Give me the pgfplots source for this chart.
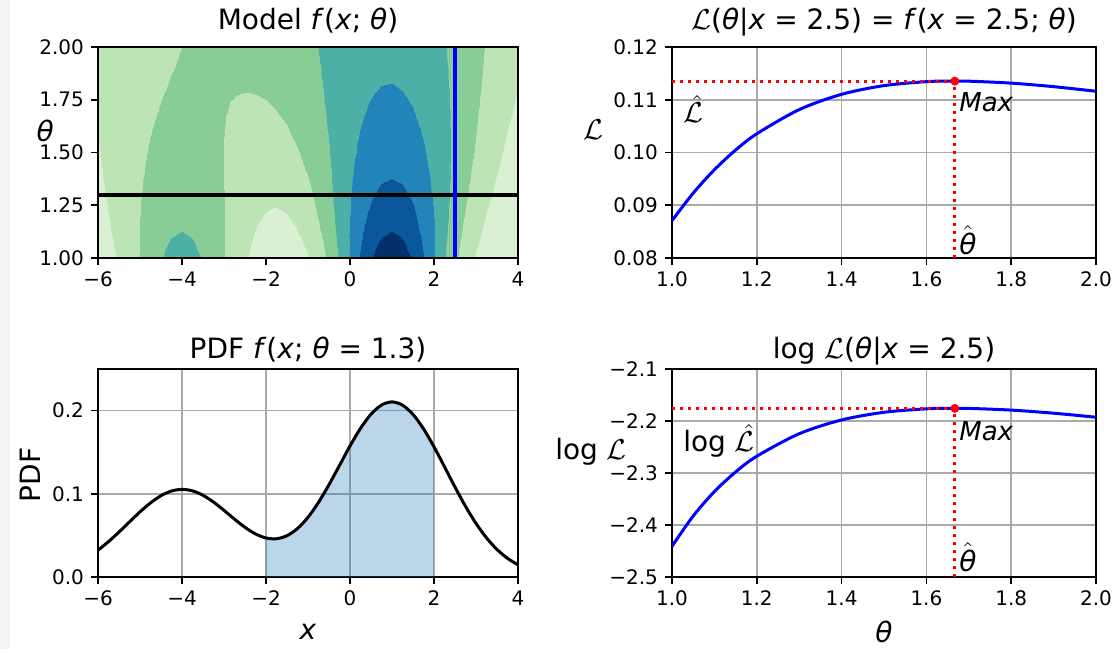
\documentclass[border=0pt]{standalone}
\usepackage{fontspec}
\setmainfont{DejaVu Sans}
\usepackage{pgfplots}
\pgfplotsset{compat=1.18}

\definecolor{gridc}{RGB}{170,170,170}
\definecolor{cfill}{RGB}{31,119,180}
\definecolor{strip}{RGB}{244,244,244}
\definecolor{mblue}{RGB}{0,0,255}
\definecolor{mred}{RGB}{255,0,0}

\newcommand{\fTick}{\fontsize{10}{12}\selectfont}
\newcommand{\fTitle}{\fontsize{14}{16}\selectfont}
\newcommand{\fLab}{\fontsize{14}{16}\selectfont}
\newcommand{\fMax}{\fontsize{13}{15}\selectfont}
\newcommand{\that}{$\hat{\mbox{\textit{θ}}}$}

\pgfplotsset{
  colormap={gnbu7}{rgb255=(218,240,211) rgb255=(189,228,180) rgb255=(136,204,150)
    rgb255=(76,176,166) rgb255=(35,132,186) rgb255=(10,88,155) rgb255=(2,48,106)},
  mpl/.style={
    scale only axis, anchor=south west,
    axis line style={black, line width=0.8pt},
    tick style={black, line width=0.8pt},
    tick align=outside, tick pos=left,
    major tick length=3.5pt,
    ticklabel style={font=\fTick},
    every axis title/.style={at={(axis description cs:0.5,1)}, anchor=base, font=\fTitle, yshift=8.5pt},
  },
  mplgrid/.style={grid=major, grid style={gridc, line width=0.8pt}},
  ylab/.style 2 args={every axis y label/.style={at={(axis description cs:#1,#2)}, anchor=center, font=\fLab}},
  xlab/.style={every axis x label/.style={at={(axis description cs:0.5,#1)}, anchor=center, font=\fLab}},
  reddot/.style={mred, line width=1.5pt, dash pattern=on 1.5pt off 2.5pt},
}

\begin{document}
\begin{tikzpicture}
\path[use as bounding box] (0pt,0pt) rectangle (557pt,324.5pt);
\fill[strip] (0pt,0pt) rectangle (5pt,324.5pt);

% ---------- top left: model contour ----------
\begin{axis}[mpl, at={(49pt,195.5pt)}, width=210pt, height=105.5pt,
  xmin=-6, xmax=4, ymin=1, ymax=2,
  xtick={-6,-4,-2,0,2,4}, xticklabels={−6,−4,−2,0,2,4},
  ytick={1,1.25,1.5,1.75,2}, yticklabels={1.00,1.25,1.50,1.75,2.00},
  colormap name=gnbu7, colormap access=piecewise constant,
  point meta min=0, point meta max=0.28,
  axis on top,
  title={Model \textit{f}(\textit{x}; \textit{θ})},
  ylabel={\textit{θ}}, ylab={-0.126}{0.6},
]
\addplot[surf, shader=interp, mesh/cols=41, mesh/rows=11, point meta=explicit] table[meta=z] {
x y z
-6 1.0 0.01815
-5.75 1.0 0.02901
-5.5 1.0 0.04354
-5.25 1.0 0.06140
-5 1.0 0.08135
-4.75 1.0 0.10124
-4.5 1.0 0.11836
-4.25 1.0 0.12999
-4 1.0 0.13412
-3.75 1.0 0.12999
-3.5 1.0 0.11836
-3.25 1.0 0.10127
-3 1.0 0.08144
-2.75 1.0 0.06164
-2.5 1.0 0.04413
-2.25 1.0 0.03037
-2 1.0 0.02113
-1.75 1.0 0.01678
-1.5 1.0 0.01768
-1.25 1.0 0.02440
-1 1.0 0.03779
-0.75 1.0 0.05869
-0.5 1.0 0.08738
-0.25 1.0 0.12292
0 1.0 0.16274
0.25 1.0 0.20248
0.5 1.0 0.23672
0.75 1.0 0.25998
1 1.0 0.26824
1.25 1.0 0.25998
1.5 1.0 0.23672
1.75 1.0 0.20248
2 1.0 0.16269
2.25 1.0 0.12281
2.5 1.0 0.08708
2.75 1.0 0.05801
3 1.0 0.03630
3.25 1.0 0.02134
3.5 1.0 0.01179
3.75 1.0 0.00611
4 1.0 0.00298
-6 1.1 0.02347
-5.75 1.1 0.03457
-5.5 1.1 0.04837
-5.25 1.1 0.06426
-5 1.1 0.08108
-4.75 1.1 0.09714
-4.5 1.1 0.11053
-4.25 1.1 0.11944
-4 1.1 0.12256
-3.75 1.1 0.11946
-3.5 1.1 0.11059
-3.25 1.1 0.09728
-3 1.1 0.08141
-2.75 1.1 0.06500
-2.5 1.1 0.04992
-2.25 1.1 0.03769
-2 1.1 0.02942
-1.75 1.1 0.02590
-1.5 1.1 0.02779
-1.25 1.1 0.03564
-1 1.1 0.04991
-0.75 1.1 0.07071
-0.5 1.1 0.09751
-0.25 1.1 0.12889
0 1.1 0.16233
0.25 1.1 0.19436
0.5 1.1 0.22109
0.75 1.1 0.23889
1 1.1 0.24513
1.25 1.1 0.23888
1.5 1.1 0.22107
1.75 1.1 0.19429
2 1.1 0.16216
2.25 1.1 0.12852
2.5 1.1 0.09674
2.75 1.1 0.06915
3 1.1 0.04694
3.25 1.1 0.03026
3.5 1.1 0.01853
3.75 1.1 0.01077
4 1.1 0.00595
-6 1.2 0.02820
-5.75 1.2 0.03905
-5.5 1.2 0.05177
-5.25 1.2 0.06573
-5 1.2 0.07991
-4.75 1.2 0.09302
-4.5 1.2 0.10369
-4.25 1.2 0.11067
-4 1.2 0.11313
-3.75 1.2 0.11075
-3.5 1.2 0.10388
-3.25 1.2 0.09345
-3 1.2 0.08079
-2.75 1.2 0.06745
-2.5 1.2 0.05499
-2.25 1.2 0.04483
-2 1.2 0.03814
-1.75 1.2 0.03587
-1.5 1.2 0.03873
-1.25 1.2 0.04718
-1 1.2 0.06137
-0.75 1.2 0.08099
-0.5 1.2 0.10516
-0.25 1.2 0.13232
0 1.2 0.16026
0.25 1.2 0.18626
0.5 1.2 0.20747
0.75 1.2 0.22136
1 1.2 0.22619
1.25 1.2 0.22133
1.5 1.2 0.20737
1.75 1.2 0.18605
2 1.2 0.15982
2.25 1.2 0.13147
2.5 1.2 0.10355
2.75 1.2 0.07810
3 1.2 0.05640
3.25 1.2 0.03900
3.5 1.2 0.02582
3.75 1.2 0.01637
4 1.2 0.00994
-6 1.3 0.03222
-5.75 1.3 0.04251
-5.5 1.3 0.05406
-5.25 1.3 0.06626
-5 1.3 0.07826
-4.75 1.3 0.08908
-4.5 1.3 0.09773
-4.25 1.3 0.10334
-4 1.3 0.10533
-3.75 1.3 0.10354
-3.5 1.3 0.09823
-3.25 1.3 0.09008
-3 1.3 0.08011
-2.75 1.3 0.06954
-2.5 1.3 0.05968
-2.25 1.3 0.05176
-2 1.3 0.04690
-1.75 1.3 0.04598
-1.5 1.3 0.04968
-1.25 1.3 0.05828
-1 1.3 0.07177
-0.75 1.3 0.08965
-0.5 1.3 0.11093
-0.25 1.3 0.13416
0 1.3 0.15744
0.25 1.3 0.17865
0.5 1.3 0.19567
0.75 1.3 0.20668
1 1.3 0.21047
1.25 1.3 0.20658
1.5 1.3 0.19542
1.75 1.3 0.17815
2 1.3 0.15652
2.25 1.3 0.13252
2.5 1.3 0.10813
2.75 1.3 0.08503
3 1.3 0.06443
3.25 1.3 0.04705
3.5 1.3 0.03312
3.75 1.3 0.02246
4 1.3 0.01468
-6 1.4 0.03552
-5.75 1.4 0.04512
-5.5 1.4 0.05551
-5.25 1.4 0.06616
-5 1.4 0.07638
-4.75 1.4 0.08543
-4.5 1.4 0.09256
-4.25 1.4 0.09717
-4 1.4 0.09889
-3.75 1.4 0.09762
-3.5 1.4 0.09359
-3.25 1.4 0.08735
-3 1.4 0.07969
-2.75 1.4 0.07161
-2.5 1.4 0.06418
-2.25 1.4 0.05844
-2 1.4 0.05537
-1.75 1.4 0.05572
-1.5 1.4 0.06003
-1.25 1.4 0.06850
-1 1.4 0.08097
-0.75 1.4 0.09690
-0.5 1.4 0.11536
-0.25 1.4 0.13504
0 1.4 0.15439
0.25 1.4 0.17175
0.5 1.4 0.18550
0.75 1.4 0.19431
1 1.4 0.19728
1.25 1.4 0.19408
1.5 1.4 0.18498
1.75 1.4 0.17079
2 1.4 0.15274
2.25 1.4 0.13232
2.5 1.4 0.11103
2.75 1.4 0.09024
3 1.4 0.07105
3.25 1.4 0.05418
3.5 1.4 0.04002
3.75 1.4 0.02863
4 1.4 0.01984
-6 1.5 0.03819
-5.75 1.5 0.04703
-5.5 1.5 0.05635
-5.25 1.5 0.06567
-5 1.5 0.07444
-4.75 1.5 0.08209
-4.5 1.5 0.08809
-4.25 1.5 0.09201
-4 1.5 0.09361
-3.75 1.5 0.09284
-3.5 1.5 0.08993
-3.25 1.5 0.08533
-3 1.5 0.07969
-2.75 1.5 0.07380
-2.5 1.5 0.06855
-2.25 1.5 0.06480
-2 1.5 0.06333
-1.75 1.5 0.06476
-1.5 1.5 0.06948
-1.25 1.5 0.07761
-1 1.5 0.08895
-0.75 1.5 0.10295
-0.5 1.5 0.11878
-0.25 1.5 0.13536
0 1.5 0.15141
0.25 1.5 0.16562
0.5 1.5 0.17677
0.75 1.5 0.18383
1 1.5 0.18613
1.25 1.5 0.18342
1.5 1.5 0.17585
1.75 1.5 0.16400
2 1.5 0.14879
2.25 1.5 0.13129
2.5 1.5 0.11268
2.75 1.5 0.09406
3 1.5 0.07637
3.25 1.5 0.06031
3.5 1.5 0.04632
3.75 1.5 0.03461
4 1.5 0.02514
-6 1.6 0.04030
-5.75 1.6 0.04841
-5.5 1.6 0.05675
-5.25 1.6 0.06494
-5 1.6 0.07254
-4.75 1.6 0.07912
-4.5 1.6 0.08428
-4.25 1.6 0.08774
-4 1.6 0.08933
-3.75 1.6 0.08907
-3.5 1.6 0.08717
-3.25 1.6 0.08401
-3 1.6 0.08012
-2.75 1.6 0.07614
-2.5 1.6 0.07279
-2.25 1.6 0.07075
-2 1.6 0.07063
-1.75 1.6 0.07292
-1.5 1.6 0.07788
-1.25 1.6 0.08557
-1 1.6 0.09575
-0.75 1.6 0.10795
-0.5 1.6 0.12146
-0.25 1.6 0.13535
0 1.6 0.14863
0.25 1.6 0.16027
0.5 1.6 0.16929
0.75 1.6 0.17493
1 1.6 0.17666
1.25 1.6 0.17426
1.5 1.6 0.16784
1.75 1.6 0.15782
2 1.6 0.14484
2.25 1.6 0.12975
2.5 1.6 0.11343
2.75 1.6 0.09678
3 1.6 0.08058
3.25 1.6 0.06548
3.5 1.6 0.05192
3.75 1.6 0.04018
4 1.6 0.03034
-6 1.7 0.04195
-5.75 1.7 0.04935
-5.5 1.7 0.05685
-5.25 1.7 0.06409
-5 1.7 0.07076
-4.75 1.7 0.07652
-4.5 1.7 0.08108
-4.25 1.7 0.08425
-4 1.7 0.08595
-3.75 1.7 0.08621
-3.5 1.7 0.08523
-3.25 1.7 0.08332
-3 1.7 0.08094
-2.75 1.7 0.07860
-2.5 1.7 0.07685
-2.25 1.7 0.07623
-2 1.7 0.07721
-1.75 1.7 0.08013
-1.5 1.7 0.08519
-1.25 1.7 0.09238
-1 1.7 0.10147
-0.75 1.7 0.11205
-0.5 1.7 0.12352
-0.25 1.7 0.13515
0 1.7 0.14611
0.25 1.7 0.15561
0.5 1.7 0.16289
0.75 1.7 0.16735
1 1.7 0.16857
1.25 1.7 0.16637
1.5 1.7 0.16082
1.75 1.7 0.15221
2 1.7 0.14102
2.25 1.7 0.12789
2.5 1.7 0.11352
2.75 1.7 0.09861
3 1.7 0.08384
3.25 1.7 0.06975
3.5 1.7 0.05680
3.75 1.7 0.04526
4 1.7 0.03529
-6 1.8 0.04323
-5.75 1.8 0.05000
-5.5 1.8 0.05675
-5.25 1.8 0.06323
-5 1.8 0.06916
-4.75 1.8 0.07430
-4.5 1.8 0.07846
-4.25 1.8 0.08149
-4 1.8 0.08336
-3.75 1.8 0.08413
-3.5 1.8 0.08398
-3.25 1.8 0.08318
-3 1.8 0.08208
-2.75 1.8 0.08110
-2.5 1.8 0.08067
-2.25 1.8 0.08120
-2 1.8 0.08303
-1.75 1.8 0.08641
-1.5 1.8 0.09146
-1.25 1.8 0.09813
-1 1.8 0.10623
-0.75 1.8 0.11538
-0.5 1.8 0.12511
-0.25 1.8 0.13482
0 1.8 0.14386
0.25 1.8 0.15158
0.5 1.8 0.15742
0.75 1.8 0.16088
1 1.8 0.16165
1.25 1.8 0.15956
1.5 1.8 0.15466
1.75 1.8 0.14715
2 1.8 0.13739
2.25 1.8 0.12588
2.5 1.8 0.11315
2.75 1.8 0.09978
3 1.8 0.08633
3.25 1.8 0.07326
3.5 1.8 0.06098
3.75 1.8 0.04980
4 1.8 0.03989
-6 1.9 0.04422
-5.75 1.9 0.05043
-5.5 1.9 0.05657
-5.25 1.9 0.06242
-5 1.9 0.06779
-4.75 1.9 0.07248
-4.5 1.9 0.07637
-4.25 1.9 0.07936
-4 1.9 0.08146
-3.75 1.9 0.08273
-3.5 1.9 0.08332
-3.25 1.9 0.08347
-3 1.9 0.08346
-2.75 1.9 0.08360
-2.5 1.9 0.08423
-2.25 1.9 0.08565
-2 1.9 0.08813
-1.75 1.9 0.09181
-1.5 1.9 0.09676
-1.25 1.9 0.10294
-1 1.9 0.11013
-0.75 1.9 0.11806
-0.5 1.9 0.12631
-0.25 1.9 0.13441
0 1.9 0.14184
0.25 1.9 0.14810
0.5 1.9 0.15273
0.75 1.9 0.15536
1 1.9 0.15571
1.25 1.9 0.15367
1.5 1.9 0.14925
1.75 1.9 0.14261
2 1.9 0.13400
2.25 1.9 0.12382
2.5 1.9 0.11248
2.75 1.9 0.10045
3 1.9 0.08818
3.25 1.9 0.07610
3.5 1.9 0.06454
3.75 1.9 0.05381
4 1.9 0.04409
-6 2.0 0.04501
-5.75 2.0 0.05074
-5.5 2.0 0.05637
-5.25 2.0 0.06173
-5 2.0 0.06666
-4.75 2.0 0.07104
-4.5 2.0 0.07477
-4.25 2.0 0.07781
-4 2.0 0.08016
-3.75 2.0 0.08189
-3.5 2.0 0.08314
-3.25 2.0 0.08409
-3 2.0 0.08497
-2.75 2.0 0.08602
-2.5 2.0 0.08749
-2.25 2.0 0.08960
-2 2.0 0.09253
-1.75 2.0 0.09639
-1.5 2.0 0.10120
-1.25 2.0 0.10689
-1 2.0 0.11330
-0.75 2.0 0.12017
-0.5 2.0 0.12717
-0.25 2.0 0.13392
0 2.0 0.14002
0.25 2.0 0.14506
0.5 2.0 0.14869
0.75 2.0 0.15061
1 2.0 0.15060
1.25 2.0 0.14857
1.5 2.0 0.14451
1.75 2.0 0.13854
2 2.0 0.13087
2.25 2.0 0.12178
2.5 2.0 0.11161
2.75 2.0 0.10074
3 2.0 0.08954
3.25 2.0 0.07837
3.5 2.0 0.06753
3.75 2.0 0.05730
4 2.0 0.04787
};
\addplot[black, line width=2pt] coordinates {(-6,1.3) (4,1.3)};
\addplot[mblue, line width=2pt] coordinates {(2.5,1) (2.5,2)};
\end{axis}

% ---------- top right: likelihood ----------
\begin{axis}[mpl, mplgrid, at={(336pt,195.5pt)}, width=212pt, height=105.5pt,
  xmin=1, xmax=2, ymin=0.08, ymax=0.12,
  xtick={1,1.2,1.4,1.6,1.8,2}, xticklabels={1.0,1.2,1.4,1.6,1.8,2.0},
  ytick={0.08,0.09,0.10,0.11,0.12}, yticklabels={0.08,0.09,0.10,0.11,0.12},
  title={$\mathcal{L}$(\textit{θ}|\textit{x} = 2.5) = \textit{f}(\textit{x} = 2.5; \textit{θ})},
  ylabel={$\mathcal{L}$}, ylab={-0.186}{0.607},
]
\addplot[mblue, line width=1.5pt, smooth] coordinates {
(1.0,0.08708) (1.05,0.09230) (1.1,0.09674) (1.15,0.10046) (1.2,0.10355)
(1.3,0.10813) (1.4,0.11103) (1.5,0.11268) (1.6,0.11343) (1.65,0.11354)
(1.7,0.11352) (1.8,0.11315) (1.9,0.11248) (2.0,0.11161)};
\addplot[reddot] coordinates {(1,0.11353) (1.667,0.11353)};
\addplot[reddot] coordinates {(1.667,0.08) (1.667,0.11353)};
\addplot[mred, only marks, mark=*, mark size=2pt] coordinates {(1.667,0.11353)};
\node[anchor=base west, font=\fLab] at (axis cs:1.01,0.1056) {$\hat{\mathcal{L}}$};
\node[anchor=base west, font=\fMax, inner sep=1pt] at (axis cs:1.672,0.1077) {\textit{Max}};
\node[anchor=base west, font=\fLab, inner sep=1pt] at (axis cs:1.672,0.0806) {\that};
\end{axis}

% ---------- bottom left: PDF ----------
\begin{axis}[mpl, mplgrid, at={(49pt,36pt)}, width=210pt, height=104pt,
  xmin=-6, xmax=4, ymin=0, ymax=0.25,
  xtick={-6,-4,-2,0,2,4}, xticklabels={−6,−4,−2,0,2,4},
  ytick={0,0.1,0.2}, yticklabels={0.0,0.1,0.2},
  every axis title/.append style={yshift=-3pt},
  title={PDF \textit{f}(\textit{x}; \textit{θ} = 1.3)},
  xlabel={\textit{x}}, ylabel={PDF},
  xlab={-0.265}, ylab={-0.162}{0.49},
  every axis y label/.append style={rotate=90},
]
\addplot[draw=none, fill=cfill, fill opacity=0.3] coordinates {
(-2,0.04690) (-1.75,0.04598) (-1.5,0.04968) (-1.25,0.05828) (-1,0.07177)
(-0.75,0.08965) (-0.5,0.11093) (-0.25,0.13416) (0,0.15744) (0.25,0.17865)
(0.5,0.19567) (0.75,0.20668) (1,0.21047) (1.25,0.20658) (1.5,0.19542)
(1.75,0.17815) (2,0.15652)} \closedcycle;
\addplot[black, line width=1.5pt, smooth] coordinates {
(-6,0.03222) (-5.75,0.04251) (-5.5,0.05406) (-5.25,0.06626) (-5,0.07826)
(-4.75,0.08908) (-4.5,0.09773) (-4.25,0.10334) (-4,0.10533) (-3.75,0.10354)
(-3.5,0.09823) (-3.25,0.09008) (-3,0.08011) (-2.75,0.06954) (-2.5,0.05968)
(-2.25,0.05176) (-2,0.04690) (-1.75,0.04598) (-1.5,0.04968) (-1.25,0.05828)
(-1,0.07177) (-0.75,0.08965) (-0.5,0.11093) (-0.25,0.13416) (0,0.15744)
(0.25,0.17865) (0.5,0.19567) (0.75,0.20668) (1,0.21047) (1.25,0.20658)
(1.5,0.19542) (1.75,0.17815) (2,0.15652) (2.25,0.13252) (2.5,0.10813)
(2.75,0.08503) (3,0.06443) (3.25,0.04705) (3.5,0.03312) (3.75,0.02246)
(4,0.01468)};
\end{axis}

% ---------- bottom right: log likelihood ----------
\begin{axis}[mpl, mplgrid, at={(336pt,36pt)}, width=212pt, height=104pt,
  xmin=1, xmax=2, ymin=-2.5, ymax=-2.1,
  xtick={1,1.2,1.4,1.6,1.8,2}, xticklabels={1.0,1.2,1.4,1.6,1.8,2.0},
  ytick={-2.5,-2.4,-2.3,-2.2,-2.1}, yticklabels={−2.5,−2.4,−2.3,−2.2,−2.1},
  every axis title/.append style={yshift=-3pt},
  title={log $\mathcal{L}$(\textit{θ}|\textit{x} = 2.5)},
  xlabel={\textit{θ}}, ylabel={log $\mathcal{L}$},
  xlab={-0.265}, ylab={-0.191}{0.6},
]
\addplot[mblue, line width=1.5pt, smooth] coordinates {
(1.0,-2.44093) (1.05,-2.38271) (1.1,-2.33572) (1.15,-2.29800) (1.2,-2.26772)
(1.3,-2.22444) (1.4,-2.19797) (1.5,-2.18322) (1.6,-2.17659) (1.65,-2.17560)
(1.7,-2.17578) (1.8,-2.17904) (1.9,-2.18498) (2.0,-2.19274)};
\addplot[reddot] coordinates {(1,-2.17570) (1.667,-2.17570)};
\addplot[reddot] coordinates {(1.667,-2.5) (1.667,-2.17570)};
\addplot[mred, only marks, mark=*, mark size=2pt] coordinates {(1.667,-2.17570)};
\node[anchor=base west, font=\fLab] at (axis cs:1.01,-2.2585) {log $\hat{\mathcal{L}}$};
\node[anchor=base west, font=\fMax, inner sep=1pt] at (axis cs:1.672,-2.237) {\textit{Max}};
\node[anchor=base west, font=\fLab, inner sep=1pt] at (axis cs:1.672,-2.490) {\that};
\end{axis}
\end{tikzpicture}
\end{document}
